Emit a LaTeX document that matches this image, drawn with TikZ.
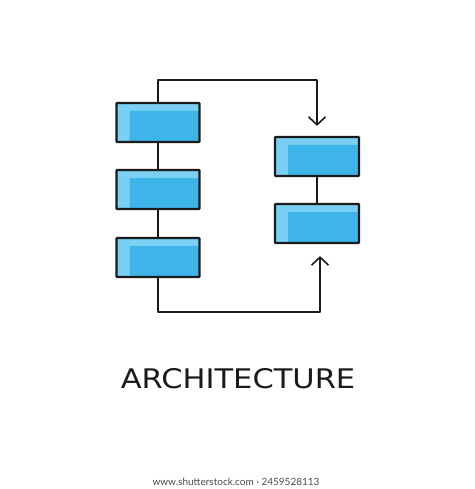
\documentclass[tikz,border=0pt]{standalone}
\usepackage{fontspec}
\setmainfont{DejaVu Sans}
\newfontfamily\footfont{Lato}
\usepackage{xcolor}
\usepackage{tikz}
\usetikzlibrary{calc,arrows.meta}
\definecolor{boxlight}{HTML}{7ACFF3}
\definecolor{boxblue}{HTML}{3EB5E9}
\definecolor{ink}{HTML}{1A1A1A}
\definecolor{footgray}{HTML}{4A4A4A}

\begin{document}
\begin{tikzpicture}[x=1pt, y=-1pt,
  block/.style={draw=ink, line width=2.2pt, fill=boxlight, rectangle,
    minimum width=83pt, minimum height=39pt, inner sep=0pt, rounded corners=0.6pt,
    path picture={\fill[boxblue] ($(path picture bounding box.north west)+(13pt,-8pt)$)
      rectangle (path picture bounding box.south east);}},
  flow/.style={draw=ink, line width=1.5pt, line join=round}]
  \useasboundingbox (0,0) rectangle (474,489);

  % left column
  \node[block] (L1) at (158,122.5) {};
  \node[block] (L2) at (158,189.5) {};
  \node[block] (L3) at (158,257.5) {};

  % right column
  \node[block, minimum width=84pt] (R1) at (317,156.5) {};
  \node[block, minimum width=84pt] (R2) at (317,223.5) {};

  \coordinate (intop) at ([yshift=10pt]R1.north);
  \coordinate (inbot) at ([xshift=3pt,yshift=-12pt]R2.south);

  \draw[flow] (L1.south) -- (L2.north);
  \draw[flow] (L2.south) -- (L3.north);
  \draw[flow] (R1.south) -- (R2.north);

  \draw[flow, -{Straight Barb[length=8pt,width=17pt,line width=1.6pt]}]
    (L1.north) -- (L1.north |- 0,80) -| (intop);
  \draw[flow, -{Straight Barb[length=8pt,width=17pt,line width=1.6pt]}]
    (L3.south) -- (L3.south |- 0,312) -| (inbot);

  \node[font=\fontsize{27}{30}\selectfont, text=ink] (title) at (238,379)
    {\scalebox{1.13}[1]{ARCHITECTURE}};
  \node[font=\footfont\fontsize{10}{12}\selectfont, text=footgray] (credit) at (236,482)
    {www.shutterstock.com · 2459528113};
\end{tikzpicture}
\end{document}
